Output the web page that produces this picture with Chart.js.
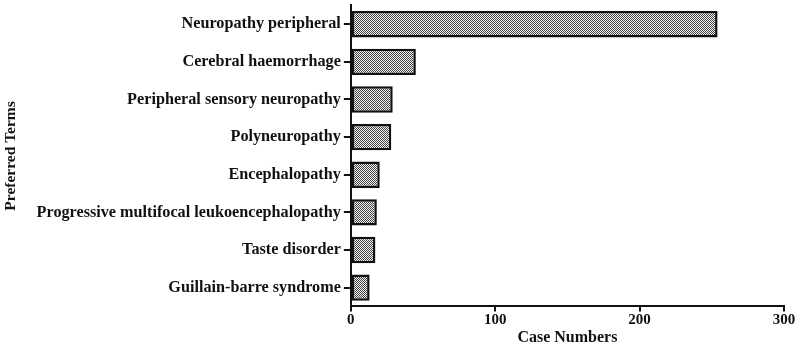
<!DOCTYPE html>
<html>
<head>
<meta charset="utf-8">
<script src="https://cdn.jsdelivr.net/npm/chart.js@4"></script>
<style>
  html, body { margin: 0; padding: 0; background: #fff; }
  #wrap { width: 799px; height: 347px; }
</style>
</head>
<body>
<div id="wrap"><canvas id="myChart" width="799" height="347"></canvas></div>
<script>
const terms = [
    'Neuropathy peripheral',
    'Cerebral haemorrhage',
    'Peripheral sensory neuropathy',
    'Polyneuropathy',
    'Encephalopathy',
    'Progressive multifocal leukoencephalopathy',
    'Taste disorder',
    'Guillain-barre syndrome'
];
const caseNumbers = [254, 45, 29, 28, 20, 18, 17, 13];
const xTicks = [0, 100, 200, 300];

// little checkerboard fill like the original
const tile = document.createElement('canvas');
tile.width = 2;
tile.height = 2;
const tctx = tile.getContext('2d');
tctx.fillStyle = '#f2f2f2';
tctx.fillRect(0, 0, 2, 2);
tctx.fillStyle = '#444';
tctx.fillRect(0, 0, 1, 1);
tctx.fillRect(1, 1, 1, 1);

const ctx = document.getElementById('myChart').getContext('2d');
const checker = ctx.createPattern(tile, 'repeat');

const serif = '"Liberation Serif", "Times New Roman", serif';
const labelFont = { family: serif, weight: 'bold', size: 16.2, lineHeight: 0.3 };
const numFont = { family: serif, weight: 'bold', size: 15 };
const titleFont = { family: serif, weight: 'bold', size: 15.5 };
const xTitleFont = { family: serif, weight: 'bold', size: 16, lineHeight: 1.1 };

const myChart = new Chart(ctx, {
    type: 'bar',
    data: {
        labels: terms,
        datasets: [{
            label: 'Case Numbers',
            data: caseNumbers,
            backgroundColor: checker,
            borderColor: '#111',
            borderWidth: 2.5,
            borderSkipped: false,
            barPercentage: 0.7,
            categoryPercentage: 1
        }]
    },
    options: {
        indexAxis: 'y',
        responsive: false,
        animation: false,
        layout: { padding: { left: 2, right: 15, top: 1, bottom: 0 } },
        plugins: {
            legend: { display: false },
            tooltip: { enabled: false }
        },
        scales: {
            x: {
                min: 0,
                max: 300,
                afterBuildTicks: (scale) => {
                    scale.ticks = xTicks.map(v => ({ value: v }));
                },
                grid: {
                    drawOnChartArea: false,
                    drawTicks: true,
                    tickLength: 5,
                    color: '#111',
                    lineWidth: 2
                },
                border: { display: true, color: '#111', width: 2 },
                ticks: { color: '#111', font: numFont, padding: 0, maxRotation: 0 },
                title: { display: true, text: 'Case Numbers', color: '#111', font: xTitleFont, padding: { top: 0, bottom: 0 } }
            },
            y: {
                grid: {
                    offset: false,
                    drawOnChartArea: false,
                    drawTicks: true,
                    tickLength: 7,
                    color: '#111',
                    lineWidth: 2
                },
                border: { display: true, color: '#111', width: 2 },
                ticks: { color: '#111', font: labelFont, padding: 3 },
                title: { display: true, text: 'Preferred Terms', color: '#111', font: titleFont, padding: { top: 0, bottom: 13 } }
            }
        }
    }
});
</script>
</body>
</html>
